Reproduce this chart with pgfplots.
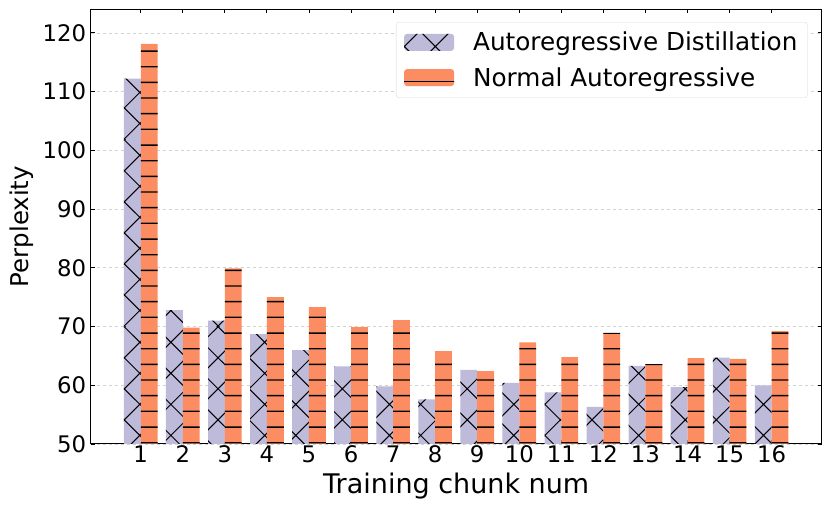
\documentclass[border=0pt]{standalone}
\usepackage{fontspec}
\setmainfont{DejaVu Sans}
\usepackage{pgfplots}
\pgfplotsset{compat=1.18}
\usetikzlibrary{patterns}
\definecolor{lpurple}{HTML}{BEBADA}
\definecolor{lorange}{HTML}{FC8D62}
\pgfdeclarepatternformonly{myhlines}{\pgfqpoint{0pt}{0pt}}{\pgfqpoint{200pt}{94.2pt}}{\pgfqpoint{200pt}{94.2pt}}{%
  \pgfsetlinewidth{1.4pt}%
  \foreach \k in {0,...,5}{%
    \pgfpathmoveto{\pgfpoint{-1pt}{7.85pt+\k*15.7pt}}\pgfpathlineto{\pgfpoint{201pt}{7.85pt+\k*15.7pt}}}%
  \pgfusepath{stroke}}
\pgfdeclarepatternformonly{mycross}{\pgfqpoint{0pt}{0pt}}{\pgfqpoint{186.6pt}{186.6pt}}{\pgfqpoint{186.6pt}{186.6pt}}{%
  \pgfsetlinewidth{1pt}%
  \foreach \k in {-7,...,7}{%
    \pgfpathmoveto{\pgfpoint{-10pt}{-10pt+\k*31.1pt}}\pgfpathlineto{\pgfpoint{200pt}{200pt+\k*31.1pt}}}%
  \foreach \k in {0,...,13}{%
    \pgfpathmoveto{\pgfpoint{-10pt}{10pt+\k*31.1pt}}\pgfpathlineto{\pgfpoint{200pt}{-200pt+\k*31.1pt}}}%
  \pgfusepath{stroke}}
\begin{document}
\begin{tikzpicture}
\begin{axis}[
  scale only axis,
  width=731pt, height=434.7pt,
  xmin=-0.19, xmax=17.19,
  ymin=50, ymax=124,
  xtick={1,...,16},
  ytick={50,60,...,120},
  tick align=inside,
  major tick length=4pt,
  tick style={black, line width=0.9pt},
  axis line style={line width=1pt},
  /pgf/number format/assume math mode=true,
  tick label style={font=\fontsize{22.8}{26}\selectfont},
  xticklabel style={yshift=2pt},
  yticklabel style={xshift=-1pt},
  xlabel={Training chunk num},
  ylabel={Perplexity},
  xlabel style={font=\fontsize{27}{32}\selectfont, yshift=-3pt},
  ylabel style={font=\fontsize{24.5}{29}\selectfont, yshift=2pt},
  ymajorgrids,
  grid style={dashed, gray!35, line width=0.6pt},
  legend style={at={(1,1)}, xshift=-14pt, yshift=-12.7pt, anchor=north east,
    draw=gray!30, rounded corners=3pt, font=\fontsize{24.7}{29}\selectfont,
    inner xsep=8pt, inner ysep=8pt, row sep=11pt,
    /tikz/every odd column/.append style={column sep=17pt}},
  legend cell align=left,
  legend image code/.code={\path[#1, draw=none] (0pt,-8.5pt) rectangle (50pt,8.5pt);},
]
\addplot[ybar, bar width=0.4, bar shift=-0.2, draw=none, fill=lpurple,
  postaction={pattern=mycross, pattern color=black}]
coordinates {(1,112.2) (2,72.8) (3,71.0) (4,68.7) (5,66.0) (6,63.2) (7,59.8) (8,57.6)
 (9,62.6) (10,60.4) (11,58.8) (12,56.3) (13,63.3) (14,59.7) (15,64.7) (16,60.0)};
\addlegendentry{Autoregressive Distillation}
\addplot[ybar, bar width=0.4, bar shift=0.2, draw=none, fill=lorange,
  postaction={pattern=myhlines, pattern color=black}]
coordinates {(1,118.1) (2,69.8) (3,79.9) (4,75.0) (5,73.3) (6,69.9) (7,71.1) (8,65.8)
 (9,62.4) (10,67.3) (11,64.8) (12,68.9) (13,63.6) (14,64.6) (15,64.5) (16,69.2)};
\addlegendentry{Normal Autoregressive}
\end{axis}
\pgfresetboundingbox
\path (-90.7pt,-69pt) rectangle (739.3pt,444pt);
\end{tikzpicture}
\end{document}
